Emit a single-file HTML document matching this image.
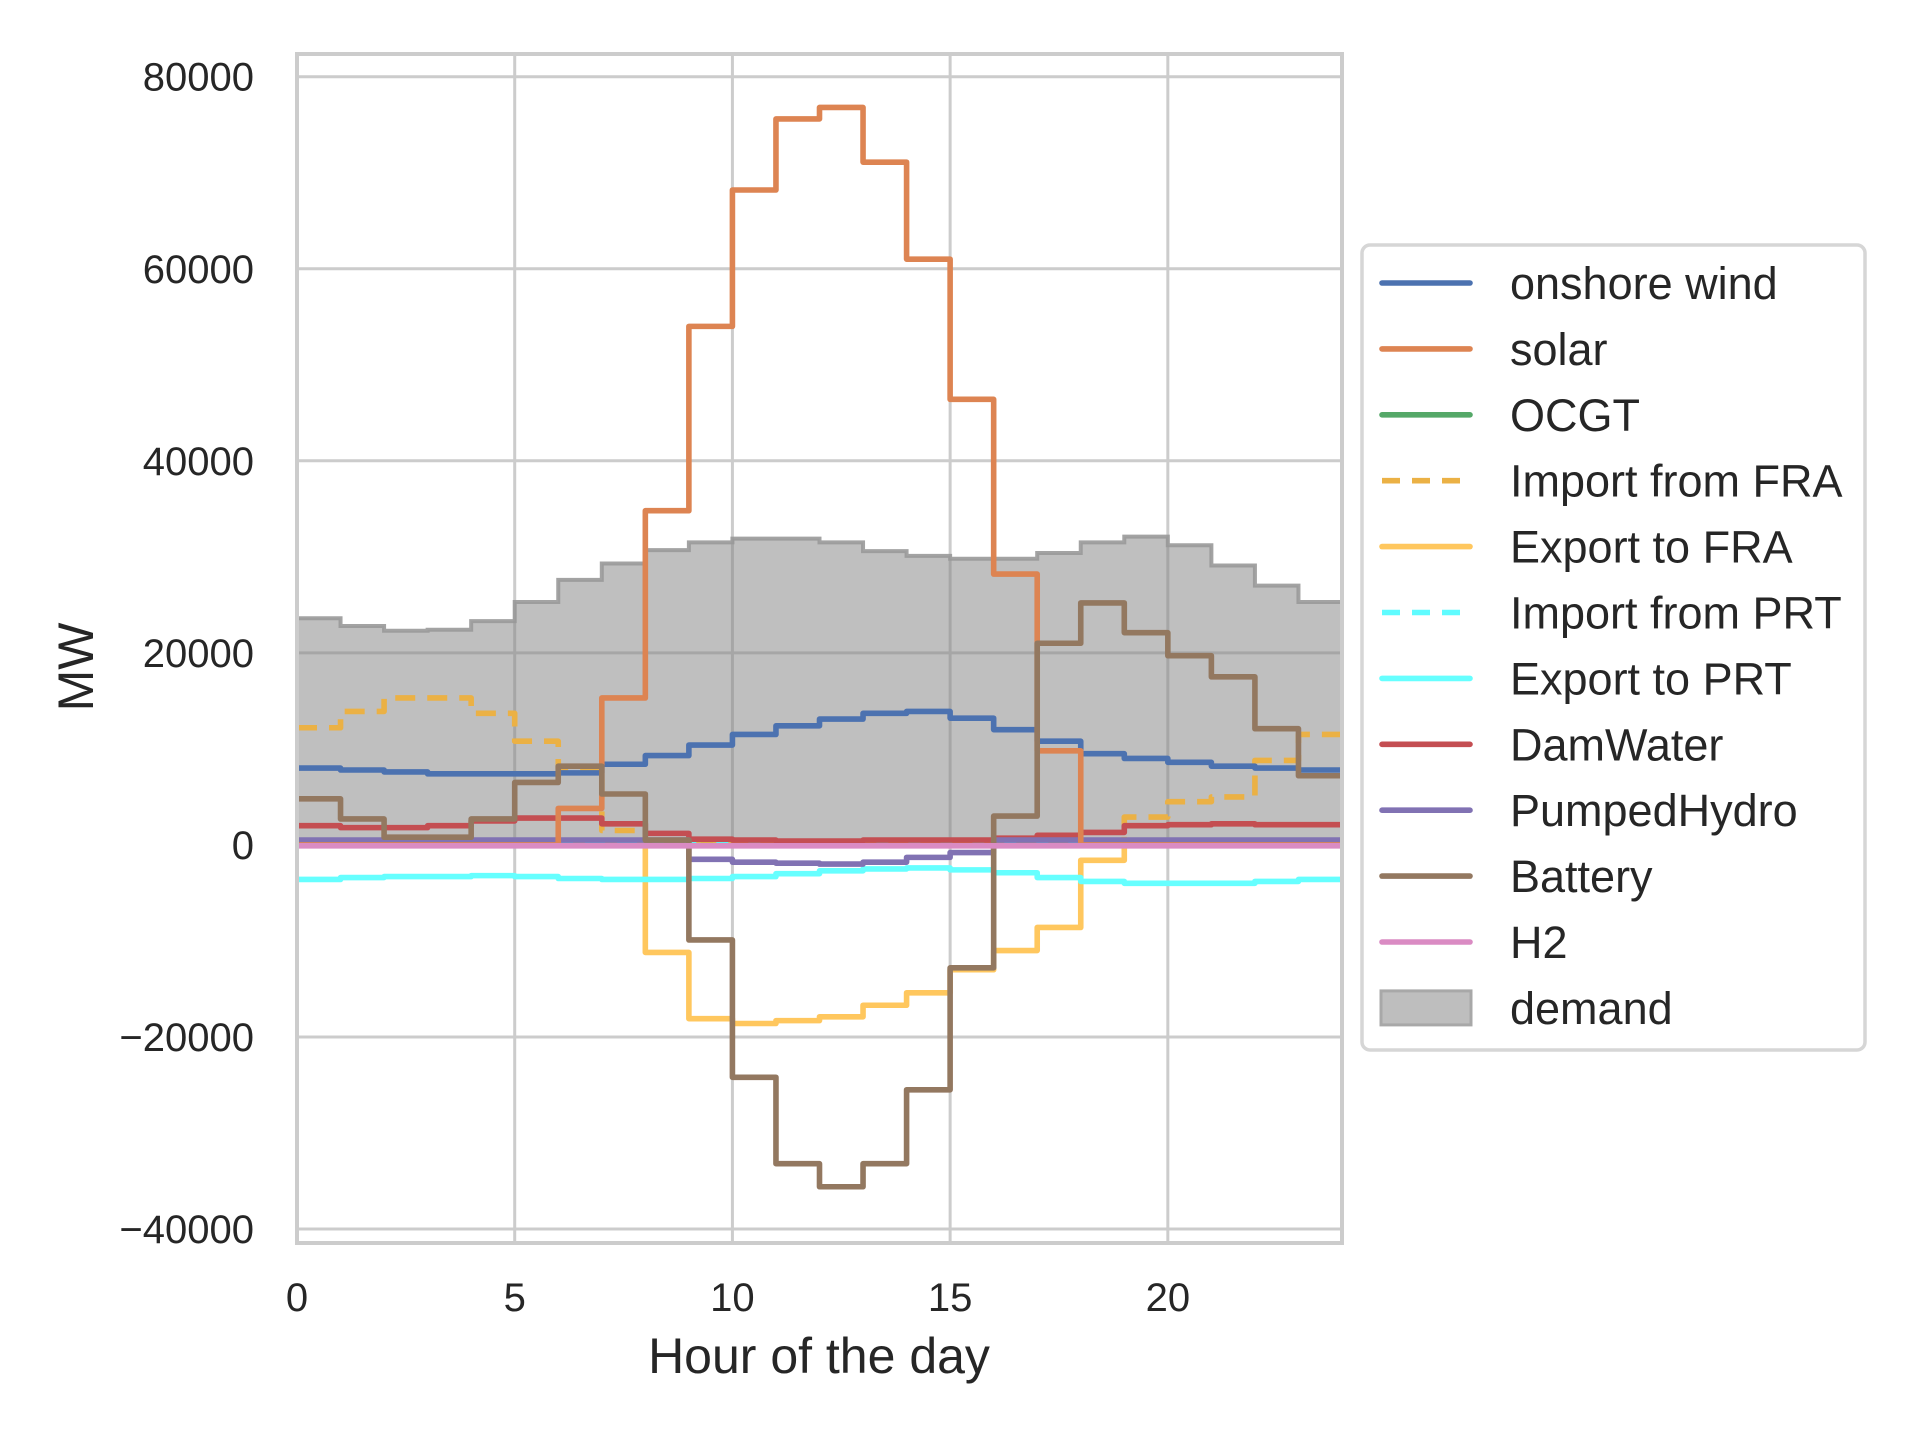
<!DOCTYPE html>
<html><head><meta charset="utf-8"><style>
html,body{margin:0;padding:0;background:#fff;}
svg{display:block;font-family:"Liberation Sans",sans-serif;}
</style></head><body>
<svg id="chart" width="1920" height="1440" viewBox="0 0 1920 1440" xmlns="http://www.w3.org/2000/svg">
<rect x="0" y="0" width="1920" height="1440" fill="#fff"/>
<g id="grid"></g>
<g id="demand"></g>
<g id="series"></g>
<rect x="297" y="54" width="1045" height="1189" fill="none" stroke="#cccccc" stroke-width="4"/>
<g id="ticks" font-size="40" fill="#262626"></g>
<text x="819" y="1373" font-size="50" text-anchor="middle" fill="#262626">Hour of the day</text>
<text x="0" y="0" font-size="50" text-anchor="middle" fill="#262626" transform="translate(93,667) rotate(-90)">MW</text>
<g id="legend"></g>
</svg>
<script>
const hours = [0,1,2,3,4,5,6,7,8,9,10,11,12,13,14,15,16,17,18,19,20,21,22,23];
const xTicks = [0,5,10,15,20];
const yTicks = [-40000,-20000,0,20000,40000,60000,80000];
const yTickLabels = ["\u221240000","\u221220000","0","20000","40000","60000","80000"];
const demand = [23600,22800,22300,22400,23300,25300,27600,29300,30700,31500,31900,31900,31500,30600,30100,29800,29800,30400,31500,32100,31200,29100,27000,25300];
const onshoreWind = [8000,7800,7600,7400,7400,7400,7500,8400,9300,10400,11500,12400,13100,13700,13900,13200,12000,10800,9500,9000,8600,8200,8000,7800];
const solar = [0,0,0,0,0,0,3800,15300,34800,54000,68200,75600,76800,71100,61000,46400,28200,9800,0,0,0,0,0,0];
const ocgt = [0,0,0,0,0,0,0,0,0,0,0,0,0,0,0,0,0,0,0,0,0,0,0,0];
const importFRA = [12200,13900,15300,15300,13700,10800,7900,1500,0,0,0,0,0,0,0,0,0,0,0,2900,4500,5000,8800,11500];
const exportFRA = [0,0,0,0,0,0,0,0,-11200,-18100,-18600,-18300,-17900,-16700,-15400,-13000,-11000,-8600,-1600,0,0,0,0,0];
const importPRT = [0,0,0,0,0,0,0,0,0,0,0,0,0,0,0,0,0,0,0,0,0,0,0,0];
const exportPRT = [-3600,-3400,-3300,-3300,-3200,-3300,-3500,-3600,-3600,-3500,-3300,-3000,-2700,-2500,-2400,-2600,-2900,-3400,-3800,-4000,-4000,-4000,-3800,-3600];
const damWater = [2000,1800,1800,2000,2500,2800,2800,2200,1200,600,500,400,400,500,500,500,700,1000,1300,2000,2100,2200,2100,2100];
const pumpedHydro = [500,500,500,500,500,500,500,500,500,-1500,-1800,-1900,-2000,-1800,-1300,-800,500,500,500,500,500,500,500,500];
const battery = [4800,2700,800,800,2700,6500,8200,5300,500,-9900,-24200,-33200,-35600,-33200,-25500,-12800,3000,21000,25200,22100,19700,17500,12100,7200];
const h2 = [-100,-100,-100,-100,-100,-100,-100,-100,-100,-100,-100,-100,-100,-100,-100,-100,-100,-100,-100,-100,-100,-100,-100,-100];

const NS="http://www.w3.org/2000/svg";
const X0=297, X1=1342, XMIN=0, XMAX=24;
const Y80=76.7, YM40=1229;
const LW=5.6;
function xs(v){return X0+(v-XMIN)/(XMAX-XMIN)*(X1-X0);}
function ys(v){return YM40+(v+40000)/120000*(Y80-YM40);}
function mk(tag,attrs,parent){const e=document.createElementNS(NS,tag);for(const k in attrs)e.setAttribute(k,attrs[k]);parent.appendChild(e);return e;}
function stepPath(vals){let d="";vals.forEach((v,i)=>{const y=ys(v);d+=(i===0?"M":"L")+xs(hours[i])+","+y+" L"+xs(hours[i]+1)+","+y+" ";});return d;}

const grid=document.getElementById('grid');
xTicks.forEach(t=>{const l=mk('line',{x1:xs(t),x2:xs(t),y1:54,y2:1243,stroke:'#cccccc','stroke-width':3},grid);

});
yTicks.forEach(t=>{const l=mk('line',{x1:297,x2:1342,y1:ys(t),y2:ys(t),stroke:'#cccccc','stroke-width':3},grid);

});

const dg=document.getElementById('demand');
let dp=stepPath(demand)+"L"+xs(24)+","+ys(0)+" L"+xs(0)+","+ys(0)+" Z";
const da=mk('path',{d:dp,fill:'rgba(128,128,128,0.5)',stroke:'none'},dg);


const de=mk('path',{d:stepPath(demand),fill:'none',stroke:'#999999','stroke-width':4,'stroke-opacity':0.9},dg);



const sg=document.getElementById('series');
const seriesDefs=[
 ['onshore-wind-line',onshoreWind,'#4c72b0',null,'onshore wind'],
 ['solar-line',solar,'#dd8452',null,'solar'],
 ['ocgt-line',ocgt,'#55a868',null,'OCGT'],
 ['import-fra-line',importFRA,'#ebb145','20,12','Import from FRA'],
 ['export-fra-line',exportFRA,'#ffc75e',null,'Export to FRA'],
 ['import-prt-line',importPRT,'#5ffcff','20,12','Import from PRT'],
 ['export-prt-line',exportPRT,'#66ffff',null,'Export to PRT'],
 ['damwater-line',damWater,'#c44e52',null,'DamWater'],
 ['pumpedhydro-line',pumpedHydro,'#8172b3',null,'PumpedHydro'],
 ['battery-line',battery,'#937860',null,'Battery'],
 ['h2-line',h2,'#da8bc3',null,'H2']
];
const drawOrder=[2,4,6,5,3,7,8,0,1,9,10];
drawOrder.forEach(i=>{const s=seriesDefs[i];
 const p=mk('path',{d:stepPath(s[1]),fill:'none',stroke:s[2],'stroke-width':LW,'stroke-linejoin':'round'},sg);
 if(s[3])p.setAttribute('stroke-dasharray',s[3]);
 
 
});

const tg=document.getElementById('ticks');
xTicks.forEach(t=>{const e=mk('text',{x:xs(t),y:1311,'text-anchor':'middle'},tg);e.textContent=t;

});
yTicks.forEach((t,i)=>{const e=mk('text',{x:254,y:ys(t)+14,'text-anchor':'end'},tg);e.textContent=yTickLabels[i];

});

const lg=document.getElementById('legend');
const box=mk('rect',{x:1362,y:245,width:503,height:805,rx:8,fill:'#fff','fill-opacity':0.85,stroke:'#d6d6d6','stroke-width':3.5},lg);


seriesDefs.forEach((s,i)=>{const y=283+i*65.9;
 const l=mk('line',{x1:1382,x2:1470,y1:y,y2:y,stroke:s[2],'stroke-width':LW,'stroke-linecap':s[3]?'butt':'round'},lg);
 if(s[3])l.setAttribute('stroke-dasharray','18,12');
 
 
 const t=mk('text',{x:1510,y:y+16,'font-size':45,fill:'#262626'},lg);t.textContent=s[4];
 
 
});
const dy=283+11*65.9;
const pr=mk('rect',{x:1381,y:dy-17,width:90,height:34,fill:'#bebebe',stroke:'#a8a8a8','stroke-width':3},lg);


const pt=mk('text',{x:1510,y:dy+16,'font-size':45,fill:'#262626'},lg);pt.textContent='demand';


</script>
</body></html>
